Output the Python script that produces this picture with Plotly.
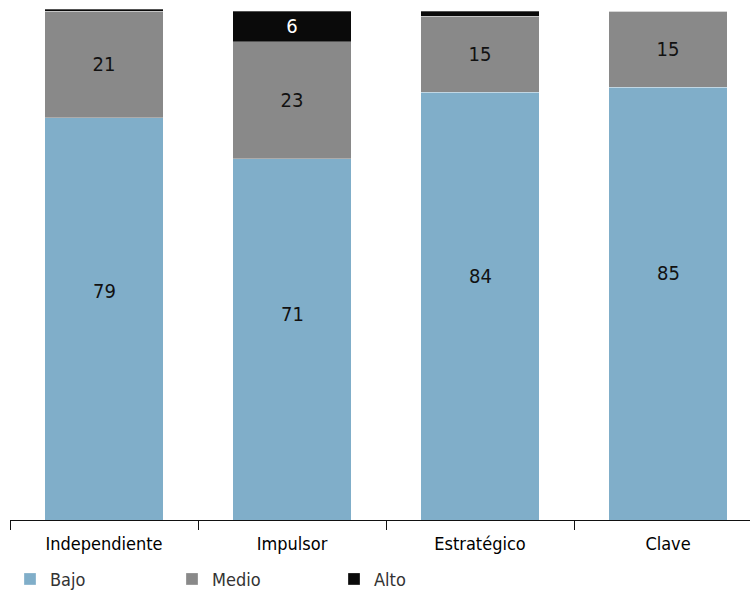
import plotly.graph_objects as go

categories = ["Independiente", "Impulsor", "Estratégico", "Clave"]
bajo = [79, 71, 84, 85]
medio = [21, 23, 15, 15]
alto = [0.4, 6, 1, 0]

FONT = "DejaVu Sans Condensed, Liberation Sans Narrow, sans-serif"


def labels(vals):
    return [f"{v:.0f}" if v >= 5 else "" for v in vals]


fig = go.Figure()

# Bajo: its value labels sit a little above the segment middle, added as annotations
fig.add_trace(go.Bar(
    name="Bajo", x=categories, y=bajo,
    marker=dict(color="#80AEC9", line=dict(color="rgba(255,255,255,0.5)", width=0.6)),
    hoverinfo="skip",
))
for name, vals, color, tcolor in [("Medio", medio, "#898989", "#111111"),
                                  ("Alto", alto, "#0A0A0A", "#FFFFFF")]:
    fig.add_trace(go.Bar(
        name=name, x=categories, y=vals,
        marker=dict(color=color, line=dict(color="rgba(255,255,255,0.5)", width=0.6)),
        text=labels(vals),
        textposition="inside",
        insidetextanchor="middle",
        textangle=0,
        textfont=dict(color=tcolor, size=20, family=FONT),
        hoverinfo="skip",
    ))

for cat, v, t in zip(categories, bajo, labels(bajo)):
    fig.add_annotation(x=cat, y=v * 0.57, text=t, showarrow=False,
                       font=dict(color="#111111", size=20, family=FONT))

fig.update_layout(
    barmode="stack",
    bargap=0.37,
    width=750,
    height=594,
    margin=dict(l=10, r=0, t=9, b=74, autoexpand=False),
    plot_bgcolor="white",
    paper_bgcolor="white",
    font=dict(family=FONT, size=18, color="#111111"),
    uniformtext=dict(mode="show", minsize=10),
    showlegend=True,
    legend=dict(
        orientation="h",
        x=0.0, xanchor="left",
        yref="container",
        y=0.056, yanchor="top",
        entrywidth=117, entrywidthmode="pixels",
        font=dict(size=18, color="#333333", family=FONT),
        traceorder="normal",
    ),
)
fig.update_xaxes(
    range=[-0.5, 3.436],
    showline=True, linecolor="#111111", linewidth=1,
    ticks="outside", tickson="boundaries", ticklen=9, tickcolor="#111111",
    ticklabelstandoff=7,
    tickfont=dict(size=18, color="#000000", family=FONT, weight=500),
    showgrid=False,
)
fig.update_yaxes(
    range=[0, 100.4],
    showticklabels=False, showgrid=False, zeroline=False, showline=False,
)

fig.write_html("out.html")
